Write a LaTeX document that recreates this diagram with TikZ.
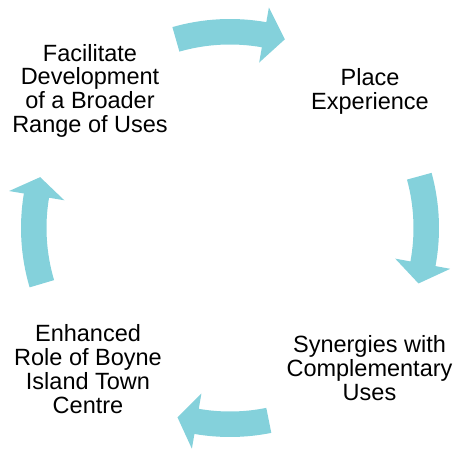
\documentclass[tikz,border=0pt]{standalone}
\usepackage{fontspec}
\setmainfont{Liberation Sans}
\usetikzlibrary{calc}
\definecolor{cyclefill}{RGB}{132,209,219}
\newcommand{\cyclearrow}[3]{%
  \fill[cyclefill] ($(C)+(#1:209pt)$) arc[start angle=#1, end angle=#2, radius=209pt]
    -- ($(C)+(#2:224pt)$) -- ($(C)+(#3:196.5pt)$) -- ($(C)+(#2:168pt)$)
    -- ($(C)+(#2:183.5pt)$) arc[start angle=#2, end angle=#1, radius=183.5pt] -- cycle;}
\begin{document}
\begin{tikzpicture}[x=1pt,y=1pt,
  lbl/.style={align=center, inner sep=0pt, font=\fontsize{23.5}{23.8}\selectfont}]
\useasboundingbox (0,0) rectangle (457,448);
\coordinate (C) at (230,220);
% arrows (clockwise)
\cyclearrow{106}{80}{73.8}
\cyclearrow{15.3}{-10.5}{-16.4}
\cyclearrow{-78.6}{-99.8}{-105.5}
\cyclearrow{196.5}{170.5}{165}
% labels
\node[lbl] (facil) at (90,357.2) {Facilitate\\Development\\of a Broader\\Range of Uses};
\node[lbl] (place) at (370,356.8) {Place\\Experience};
\node[lbl] (syn) at (369.5,79.7) {Synergies with\\Complementary\\Uses};
\node[lbl] (enh) at (88,79) {Enhanced\\Role of Boyne\\Island Town\\Centre};
\end{tikzpicture}
\end{document}
